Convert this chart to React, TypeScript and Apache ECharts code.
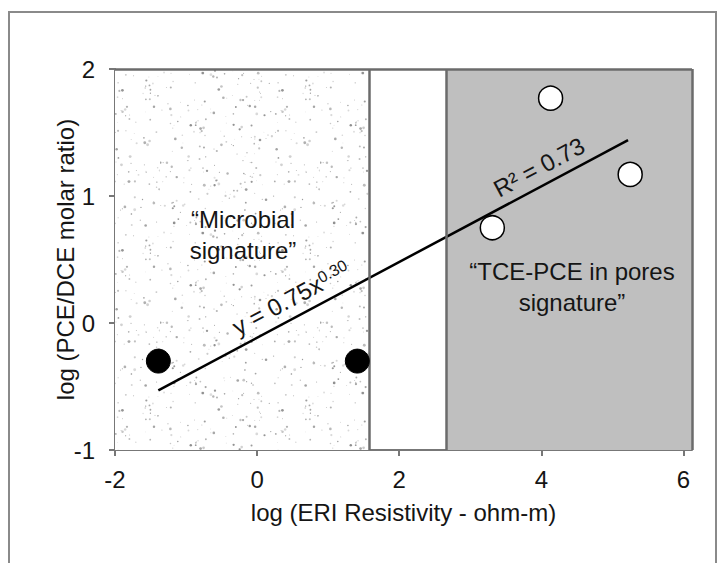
import React, { useEffect, useRef } from "react";
import * as echarts from "echarts";

const xTicks = [-2, 0, 2, 4, 6];
const yTicks = [-1, 0, 1, 2];
const xRange = [-2, 6.12];
const yRange = [-1, 2];
const microbialZone = [-2, 1.58];
const poresZone = [2.66, 6.12];
const microbialPoints = [[-1.39, -0.3], [1.41, -0.3]];
const poresPoints = [[3.31, 0.75], [4.13, 1.77], [5.25, 1.17]];
const trendLine = [[-1.39, -0.53], [5.22, 1.44]];

const FONT = "'Liberation Sans', Arial, sans-serif";
const TXT = "#151515";
const AXIS = "#777";
const FS = 24;

function hash(n: number): number {
  const v = Math.sin(n * 12.9898 + 78.233) * 43758.5453;
  return v - Math.floor(v);
}

function makeStipple(): string {
  const c = document.createElement("canvas");
  const s = 160;
  c.width = s;
  c.height = s;
  const ctx = c.getContext("2d")!;
  ctx.fillStyle = "#ffffff";
  ctx.fillRect(0, 0, s, s);
  for (let i = 1; i <= 300; i++) {
    const x = hash(i) * s;
    const y = hash(i + 1000) * s;
    const t = hash(i + 2000);
    const r = 0.45 + t * t * 1.0;
    const g = 115 + Math.floor(hash(i + 3000) * 105);
    ctx.fillStyle = `rgba(${g},${g},${g},0.8)`;
    ctx.beginPath();
    ctx.arc(x, y, r, 0, Math.PI * 2);
    ctx.fill();
  }
  return c.toDataURL();
}

export default function App() {
  const ref = useRef<HTMLDivElement>(null);
  useEffect(() => {
    document.body.style.margin = "0";
    const chart = echarts.init(ref.current!, null, { renderer: "svg" });
    const stipple = makeStipple();
    chart.setOption({
      animation: false,
      backgroundColor: "#ffffff",
      grid: { left: 115, right: 34, top: 69, bottom: 113, show: false },
      xAxis: {
        type: "value",
        min: xRange[0],
        max: xRange[1],
        interval: 2,
        name: "log (ERI Resistivity - ohm-m)",
        nameLocation: "middle",
        nameGap: 50,
        nameMoveOverlap: false,
        nameTextStyle: { fontFamily: FONT, fontSize: FS, color: TXT },
        axisLine: { show: true, onZero: false, lineStyle: { color: AXIS, width: 2 } },
        axisTick: { show: true, inside: false, length: 6, customValues: xTicks, lineStyle: { color: AXIS, width: 2 } },
        axisLabel: { customValues: xTicks, margin: 17, fontFamily: FONT, fontSize: FS, color: TXT },
        splitLine: { show: false },
      },
      yAxis: {
        type: "value",
        min: yRange[0],
        max: yRange[1],
        interval: 1,
        name: "log (PCE/DCE molar ratio)",
        nameLocation: "middle",
        nameGap: 38,
        nameMoveOverlap: false,
        nameTextStyle: { fontFamily: FONT, fontSize: FS, color: TXT },
        axisLine: { show: true, onZero: false, lineStyle: { color: AXIS, width: 2 } },
        axisTick: { show: true, inside: false, length: 6, customValues: yTicks, lineStyle: { color: AXIS, width: 2 } },
        axisLabel: { customValues: yTicks, margin: 20, fontFamily: FONT, fontSize: FS, color: TXT },
        splitLine: { show: false },
      },
      graphic: [
        {
          type: "rect",
          z: -10,
          shape: { x: 9, y: 12, width: 707, height: 620 },
          style: { fill: "none", stroke: "#8a8a8a", lineWidth: 2 },
        },
        {
          type: "text",
          x: 243,
          y: 235,
          z: 50,
          style: {
            text: "\u201cMicrobial\nsignature\u201d",
            fontFamily: FONT,
            fontSize: FS,
            lineHeight: 31,
            fill: TXT,
            align: "center",
            verticalAlign: "middle",
          },
        },
        {
          type: "text",
          x: 572,
          y: 287,
          z: 50,
          style: {
            text: "\u201cTCE-PCE in pores\nsignature\u201d",
            fontFamily: FONT,
            fontSize: FS,
            lineHeight: 31,
            fill: TXT,
            align: "center",
            verticalAlign: "middle",
          },
        },
        {
          type: "text",
          x: 291,
          y: 298,
          rotation: 0.49,
          z: 50,
          style: {
            text: "{a|y = 0.75x}{s|0.30}",
            fontFamily: FONT,
            fill: TXT,
            align: "center",
            verticalAlign: "middle",
            rich: {
              a: { fontFamily: FONT, fontSize: FS, color: TXT, lineHeight: 24, verticalAlign: "bottom" },
              s: { fontFamily: FONT, fontSize: 16, color: TXT, lineHeight: 24, verticalAlign: "top" },
            },
          },
        },
        {
          type: "text",
          x: 539,
          y: 167,
          rotation: 0.49,
          z: 50,
          style: {
            text: "R\u00b2 = 0.73",
            fontFamily: FONT,
            fontSize: FS,
            fill: TXT,
            align: "center",
            verticalAlign: "middle",
          },
        },
      ],
      series: [
        {
          type: "line",
          data: trendLine,
          symbol: "none",
          z: 3,
          lineStyle: { color: "#000", width: 2.5 },
          markArea: {
            silent: true,
            z: 1,
            data: [
              [
                { xAxis: microbialZone[0], yAxis: yRange[0], itemStyle: { color: { image: stipple, repeat: "repeat" } } },
                { xAxis: microbialZone[1], yAxis: yRange[1] },
              ],
              [
                { xAxis: poresZone[0], yAxis: yRange[0], itemStyle: { color: "#bfbfbf" } },
                { xAxis: poresZone[1], yAxis: yRange[1] },
              ],
            ],
          },
          markLine: {
            silent: true,
            symbol: "none",
            label: { show: false },
            lineStyle: { color: "#6b6b6b", width: 2.5, type: "solid" },
            data: [
              { xAxis: microbialZone[1] },
              { xAxis: poresZone[0] },
              { xAxis: poresZone[1] },
              { yAxis: yRange[1] },
            ],
          },
        },
        {
          type: "scatter",
          data: microbialPoints,
          symbolSize: 24,
          z: 5,
          itemStyle: { color: "#000", borderColor: "#000", borderWidth: 1, opacity: 1 },
        },
        {
          type: "scatter",
          data: poresPoints,
          symbolSize: 24,
          z: 5,
          itemStyle: { color: "#fff", borderColor: "#000", borderWidth: 1.5, opacity: 1 },
        },
      ],
    });
    return () => chart.dispose();
  }, []);
  return <div ref={ref} style={{ position: "fixed", left: 0, top: 0, width: 726, height: 563 }} />;
}
